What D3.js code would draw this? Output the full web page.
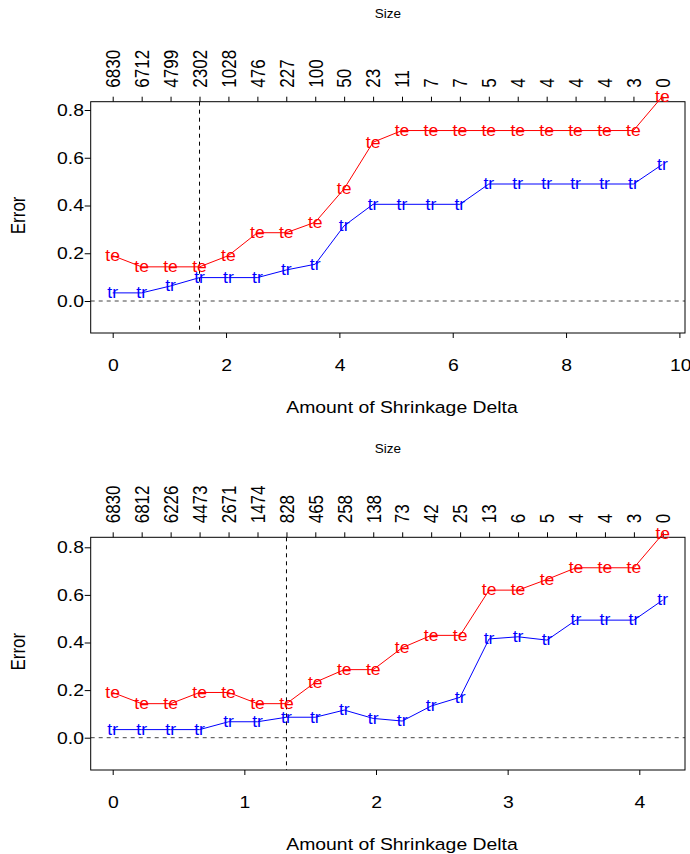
<!DOCTYPE html>
<html><head><meta charset="utf-8">
<script src="https://cdn.jsdelivr.net/npm/d3@7"></script>
<style>body{margin:0;background:#fff}svg{display:block}text{font-family:"Liberation Sans",Arial,sans-serif}</style>
</head><body>
<script>
// ---- Data: panel 1 ----
const thresholds1 = [0, 0.511, 1.021, 1.532, 2.042, 2.553, 3.063, 3.574, 4.084, 4.595, 5.105, 5.616, 6.126, 6.637, 7.147, 7.658, 8.168, 8.679, 9.189, 9.700];
const sizes1 = ["6830","6712","4799","2302","1028","476","227","100","50","23","11","7","7","5","4","4","4","4","3","0"];
const testErr1 = [0.190, 0.143, 0.143, 0.143, 0.190, 0.286, 0.286, 0.330, 0.470, 0.665, 0.714, 0.714, 0.714, 0.714, 0.714, 0.714, 0.714, 0.714, 0.714, 0.857];
const trainErr1 = [0.034, 0.034, 0.063, 0.098, 0.098, 0.098, 0.130, 0.154, 0.315, 0.405, 0.405, 0.405, 0.405, 0.490, 0.490, 0.490, 0.490, 0.490, 0.490, 0.572];
const xTicks1 = [0, 2, 4, 6, 8, 10];
const chosen1 = 1.532;
// ---- Data: panel 2 ----
const thresholds2 = [0, 0.220, 0.440, 0.660, 0.880, 1.100, 1.320, 1.539, 1.759, 1.979, 2.199, 2.419, 2.639, 2.859, 3.079, 3.299, 3.519, 3.739, 3.959, 4.178];
const sizes2 = ["6830","6812","6226","4473","2671","1474","828","465","258","138","73","42","25","13","6","5","4","4","3","0"];
const testErr2 = [0.190, 0.143, 0.143, 0.190, 0.190, 0.143, 0.143, 0.233, 0.286, 0.286, 0.378, 0.430, 0.430, 0.620, 0.620, 0.665, 0.714, 0.714, 0.714, 0.856];
const trainErr2 = [0.034, 0.034, 0.034, 0.034, 0.067, 0.067, 0.086, 0.086, 0.116, 0.081, 0.070, 0.133, 0.170, 0.415, 0.424, 0.410, 0.494, 0.494, 0.494, 0.578];
const xTicks2 = [0, 1, 2, 3, 4];
const chosen2 = 1.320;
const yTicks = [0.0, 0.2, 0.4, 0.6, 0.8];

const W = 690, H = 854;
const FS = 17, SX = 1.14;      // axis text size and horizontal stretch
const MFS = 16, MSX = 1.1;     // marker label size/stretch
const svg = d3.select("body").append("svg").attr("width", W).attr("height", H);

// Horizontal text placed like R: position computed from the nominal width, drawn slightly wider.
// align: 0.5 = centred, 1 = right-aligned
function hText(g, x, y, str, opts) {
  const sx = opts.sx || 1, align = opts.align == null ? 0.5 : opts.align;
  const t = g.append("text").attr("dy", opts.dy || "0.35em").attr("text-anchor", "start")
    .attr("font-size", opts.fs).attr("fill", opts.fill || "#000").text(str);
  const w = t.node().getComputedTextLength();
  const x0 = opts.keepCenter ? x - align * w * sx : x - align * w;
  t.attr("transform", `translate(${x0},${y}) scale(${sx},1)`);
  return t;
}

function panel(cfg) {
  const {top, bottom, xMax, thresholds, sizes, te, tr, xTicks, chosen} = cfg;
  const left = 90.7, right = 685;
  const x = d3.scaleLinear().domain([0, xMax]).range([112.7, 112.7 + xMax * cfg.pxPerUnit]);
  const y = d3.scaleLinear().domain([0, 0.8]).range([cfg.y0, cfg.y08]);
  const g = svg.append("g");

  g.append("line").attr("x1", left).attr("x2", right).attr("y1", y(0)).attr("y2", y(0))
    .attr("stroke", "#444").attr("stroke-dasharray", "4,4").attr("stroke-width", 1);
  g.append("line").attr("x1", x(chosen)).attr("x2", x(chosen)).attr("y1", top).attr("y2", bottom)
    .attr("stroke", "#000").attr("stroke-dasharray", "4,4").attr("stroke-width", 1);

  // bottom axis (ticks via d3, labels placed R-style)
  const bx = g.append("g").attr("transform", `translate(0,${bottom})`)
    .call(d3.axisBottom(x).tickValues(xTicks).tickFormat(d3.format("d")).tickSize(5));
  bx.select(".domain").remove();
  bx.selectAll(".tick text").remove();
  xTicks.forEach(v => hText(g, x(v), bottom + 32, d3.format("d")(v), {fs: FS, sx: SX}));

  // left axis
  const ly = g.append("g").attr("transform", `translate(${left},0)`)
    .call(d3.axisLeft(y).tickValues(yTicks).tickSize(6));
  ly.select(".domain").remove();
  ly.selectAll(".tick text").remove();
  yTicks.forEach(v => hText(g, left - 10, y(v), d3.format(".1f")(v), {fs: FS, sx: SX, align: 1}));

  // top axis (sizes)
  const tx = g.append("g").attr("transform", `translate(0,${top})`)
    .call(d3.axisTop(x).tickValues(thresholds).tickSize(5).tickFormat((d, i) => sizes[i]));
  tx.select(".domain").remove();
  tx.selectAll(".tick text").attr("x", null).attr("y", null).attr("dy", "0.35em")
    .attr("text-anchor", "start").attr("font-size", FS).attr("fill", "#000")
    .attr("font-family", "Liberation Sans, Arial, sans-serif")
    .attr("transform", `translate(0,-14) rotate(-90) scale(1,${SX})`);
  [bx, ly, tx].forEach(a => a.selectAll(".tick line").attr("stroke", "#000"));

  g.append("rect").attr("x", left).attr("y", top).attr("width", right - left).attr("height", bottom - top)
    .attr("fill", "none").attr("stroke", "#000").attr("stroke-width", 1);

  const line = d3.line().x((d, i) => x(thresholds[i])).y(d => y(d));
  [[te, "#ff0000", "te"], [tr, "#0000ff", "tr"]].forEach(([vals, col, lab]) => {
    g.append("path").datum(vals).attr("d", line).attr("fill", "none").attr("stroke", col).attr("stroke-width", 1);
    vals.forEach((v, i) => hText(g, x(thresholds[i]), y(v), lab, {fs: MFS, sx: MSX, fill: col, dy: "0.33em", keepCenter: true}));
  });

  hText(g, (left + right) / 2, top - 88.7, "Size", {fs: 13.5, keepCenter: true});
  hText(g, (left + right) / 2, bottom + 74, "Amount of Shrinkage Delta", {fs: FS, sx: SX});
  g.append("text").attr("transform", `translate(18,${(top + bottom) / 2 - 2}) rotate(-90) scale(1,${SX})`).attr("dy", "0.35em")
    .attr("text-anchor", "middle").attr("font-size", FS).text("Error");
}

panel({top: 101.7, bottom: 333, xMax: 10, pxPerUnit: 56.67, y0: 301, y08: 110,
  thresholds: thresholds1, sizes: sizes1, te: testErr1, tr: trainErr1, xTicks: xTicks1, chosen: chosen1});
panel({top: 537.3, bottom: 770, xMax: 4.3, pxPerUnit: 131.65, y0: 737.7, y08: 547.3,
  thresholds: thresholds2, sizes: sizes2, te: testErr2, tr: trainErr2, xTicks: xTicks2, chosen: chosen2});
</script>
</body></html>
